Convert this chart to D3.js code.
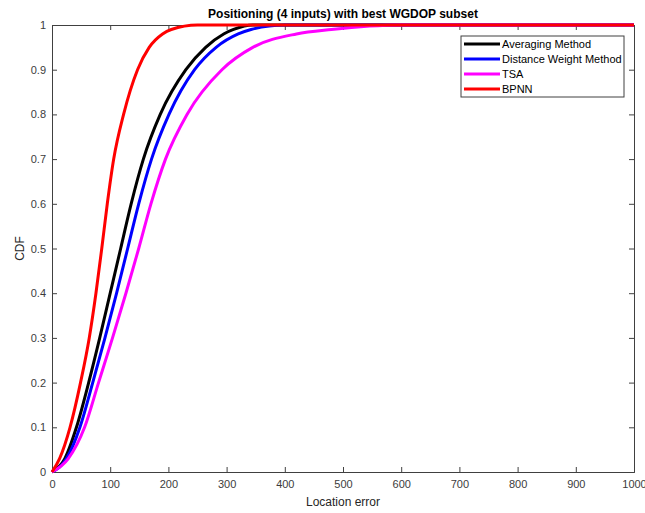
<!DOCTYPE html>
<html>
<head>
<meta charset="utf-8">
<script src="https://cdnjs.cloudflare.com/ajax/libs/d3/7.8.5/d3.min.js"></script>
<style>
  body { margin: 0; background: #fff; }
  text { font-family: "Liberation Sans", Arial, sans-serif; }
</style>
</head>
<body>
<div id="chart"></div>
<script>
// CDF of location error

// Data
var cdfLevels = [0, 0.03, 0.1, 0.2, 0.3, 0.4, 0.5, 0.6, 0.7, 0.8, 0.9, 0.95, 0.98, 0.99, 1, 1];
var averagingErr = [0, 22, 42, 63, 82, 100, 118, 136, 157, 186, 230, 264, 295, 312, 345, 1000];
var distanceErr = [0, 25, 48, 70, 91, 111, 130, 149, 171, 201, 245, 282, 320, 342, 400, 1000];
var tsaErr = [0, 28, 56, 80, 104, 127, 149, 170, 195, 232, 292, 345, 420, 480, 600, 1000];
var bpnnErr = [0, 13, 31, 49, 64, 75.5, 85.5, 95, 106, 123, 147, 167, 190, 205, 250, 1000];

var seriesNames = ["Averaging Method", "Distance Weight Method", "TSA", "BPNN"];
var seriesColors = ["#000000", "#0000ff", "#ff00ff", "#ff0000"];
var seriesErr = [averagingErr, distanceErr, tsaErr, bpnnErr];

var xTicks = [0, 100, 200, 300, 400, 500, 600, 700, 800, 900, 1000];
var yTicks = [0, 0.1, 0.2, 0.3, 0.4, 0.5, 0.6, 0.7, 0.8, 0.9, 1];

// SVG area
var svgWidth = 645;
var svgHeight = 513;

var margin = {
  top: 25,
  right: 11,
  bottom: 41,
  left: 52
};

var width = svgWidth - margin.left - margin.right;
var height = svgHeight - margin.top - margin.bottom;

var axisColor = "#404040";

var svg = d3.select("#chart")
  .append("svg")
  .attr("width", svgWidth)
  .attr("height", svgHeight);

var chartGroup = svg.append("g")
  .attr("transform", `translate(${margin.left}, ${margin.top})`);

// Scales
var xScale = d3.scaleLinear()
  .domain([0, 1000])
  .range([0, width]);

var yScale = d3.scaleLinear()
  .domain([0, 1])
  .range([height, 0]);

// Axes (ticks pointing inwards, box all round)
var bottomAxis = d3.axisBottom(xScale).tickValues(xTicks).tickSize(-5).tickPadding(8)
  .tickFormat(d3.format("d"));
var leftAxis = d3.axisLeft(yScale).tickValues(yTicks).tickSize(-5).tickPadding(6)
  .tickFormat(function(d) { return d === 0 || d === 1 ? String(d) : d3.format(".1f")(d); });
var topAxis = d3.axisTop(xScale).tickValues(xTicks).tickSize(-5).tickFormat("");
var rightAxis = d3.axisRight(yScale).tickValues(yTicks).tickSize(-5).tickFormat("");

function styleAxis(g) {
  g.select(".domain").attr("stroke", axisColor);
  g.selectAll(".tick line").attr("stroke", axisColor);
  g.selectAll(".tick text")
    .attr("fill", "#3c3c3c")
    .style("font-size", "11px")
    .style("font-family", "'Liberation Sans', Arial, sans-serif");
}

chartGroup.append("g")
  .attr("transform", `translate(0, ${height})`)
  .call(bottomAxis)
  .call(styleAxis);

chartGroup.append("g")
  .call(leftAxis)
  .call(styleAxis);

chartGroup.append("g")
  .call(topAxis)
  .call(styleAxis);

chartGroup.append("g")
  .attr("transform", `translate(${width}, 0)`)
  .call(rightAxis)
  .call(styleAxis);

// Lines
var line = d3.line()
  .x(d => xScale(d[0]))
  .y(d => yScale(d[1]))
  .curve(d3.curveMonotoneX);

seriesErr.forEach(function(errs, i) {
  var pts = errs.map((e, j) => [e, cdfLevels[j]]);
  chartGroup.append("path")
    .datum(pts)
    .attr("fill", "none")
    .attr("stroke", seriesColors[i])
    .attr("stroke-width", 3)
    .attr("stroke-linejoin", "round")
    .attr("d", line);
});

// Legend
var legend = svg.append("g")
  .attr("transform", "translate(461, 36)");

legend.append("rect")
  .attr("width", 163)
  .attr("height", 61)
  .attr("fill", "#fff")
  .attr("stroke", axisColor)
  .attr("stroke-width", 1);

seriesNames.forEach(function(name, i) {
  var yPos = 8 + i * 15;
  legend.append("line")
    .attr("x1", 3)
    .attr("x2", 39)
    .attr("y1", yPos)
    .attr("y2", yPos)
    .attr("stroke", seriesColors[i])
    .attr("stroke-width", 3);
  legend.append("text")
    .attr("x", 41)
    .attr("y", yPos + 4)
    .attr("font-size", "11px")
    .attr("fill", "#000")
    .text(name);
});

// Title and axis labels
svg.append("text")
  .attr("x", margin.left + width / 2)
  .attr("y", 18)
  .attr("text-anchor", "middle")
  .attr("font-size", "12px")
  .attr("font-weight", "bold")
  .attr("fill", "#000")
  .text("Positioning (4 inputs) with best WGDOP subset");

svg.append("text")
  .attr("x", margin.left + width / 2)
  .attr("y", 506)
  .attr("text-anchor", "middle")
  .attr("font-size", "12px")
  .attr("fill", "#262626")
  .text("Location error");

svg.append("text")
  .attr("transform", "rotate(-90)")
  .attr("x", -(margin.top + height / 2))
  .attr("y", 24)
  .attr("text-anchor", "middle")
  .attr("font-size", "12px")
  .attr("fill", "#262626")
  .text("CDF");
</script>
</body>
</html>
